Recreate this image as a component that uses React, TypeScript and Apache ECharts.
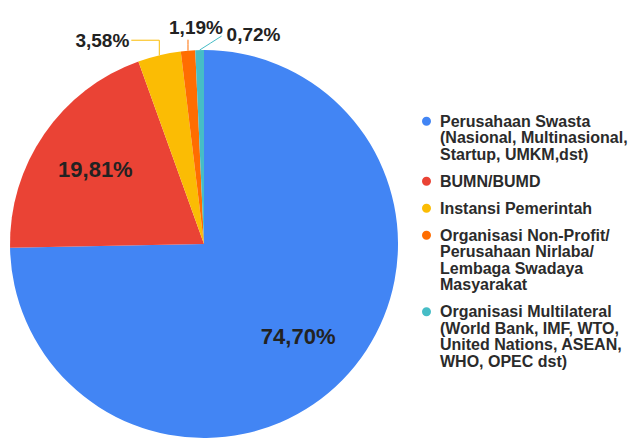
import React, { useEffect, useRef } from "react";
import * as echarts from "echarts";

const categories = [
  "Perusahaan Swasta\n(Nasional, Multinasional,\nStartup, UMKM,dst)",
  "BUMN/BUMD",
  "Instansi Pemerintah",
  "Organisasi Non-Profit/\nPerusahaan Nirlaba/\nLembaga Swadaya\nMasyarakat",
  "Organisasi Multilateral\n(World Bank, IMF, WTO,\nUnited Nations, ASEAN,\nWHO, OPEC dst)",
];
const values = [74.7, 19.81, 3.58, 1.19, 0.72];
const colors = ["#4285F4", "#EA4335", "#FBBC04", "#FF6D01", "#46BDC6"];

const PIE_CENTER = [204, 244];
const PIE_RADIUS = 194;
const FONT = "Liberation Sans, Arial, Helvetica, sans-serif";
const LEGEND_FONT_SIZE = 16;
const LEGEND_LINE = 16.5;

export default function App() {
  const ref = useRef<HTMLDivElement>(null);
  useEffect(() => {
    if (!ref.current) return;
    const chart = echarts.init(ref.current, null, { renderer: "svg" });
    const fmt = (v: number) => v.toFixed(2).replace(".", ",") + "%";

    const rich: any = {
      s: { width: 9, height: 9, lineHeight: LEGEND_LINE },
      p: { width: 18, height: 9, lineHeight: LEGEND_LINE },
      t: {
        fontFamily: FONT,
        fontWeight: "bold",
        fontSize: LEGEND_FONT_SIZE,
        lineHeight: LEGEND_LINE,
        color: "#2b2b2b",
      },
    };
    colors.forEach((c, i) => {
      rich["d" + i] = {
        width: 9,
        height: 9,
        borderRadius: 4.5,
        backgroundColor: c,
        lineHeight: LEGEND_LINE,
      };
    });

    chart.setOption({
      animation: false,
      backgroundColor: "#ffffff",
      legend: {
        orient: "vertical",
        left: 417,
        top: 113,
        padding: 0,
        icon: "none",
        itemWidth: 0,
        itemHeight: 9,
        itemGap: 10.5,
        selectedMode: false,
        data: categories,
        formatter: (name: string) => {
          const i = categories.indexOf(name);
          return name
            .split("\n")
            .map((l, j) => (j === 0 ? `{d${i}|}{s|}{t|${l}}` : `{p|}{t|${l}}`))
            .join("\n");
        },
        textStyle: {
          fontFamily: FONT,
          fontWeight: "bold",
          fontSize: LEGEND_FONT_SIZE,
          lineHeight: LEGEND_LINE,
          color: "#2b2b2b",
          rich,
        },
      },
      series: [
        {
          type: "pie",
          center: PIE_CENTER,
          radius: PIE_RADIUS,
          startAngle: 90,
          clockwise: true,
          avoidLabelOverlap: false,
          itemStyle: { borderWidth: 0 },
          data: categories.map((name, i) => ({
            name,
            value: values[i],
            itemStyle: { color: colors[i] },
            label:
              i < 2
                ? { position: "inside", fontSize: 22, fontWeight: "bold", color: "#222222" }
                : { position: "outside", fontSize: 19, fontWeight: "bold", color: "#222222" },
            labelLine:
              i < 2
                ? { show: false }
                : { show: true, length: 8, length2: 12, lineStyle: { color: colors[i], width: 1 } },
          })),
          label: {
            fontFamily: FONT,
            formatter: (p: any) => fmt(p.value),
          },
          labelLayout: (params: any) => {
            const i = params.dataIndex;
            const r = params.labelRect;
            if (i < 2) {
              const cx = r.x + r.width / 2;
              const cy = r.y + r.height / 2;
              const vx = cx - PIE_CENTER[0];
              const vy = cy - PIE_CENTER[1];
              const len = Math.sqrt(vx * vx + vy * vy) || 1;
              const d = PIE_RADIUS * 0.68;
              return {
                x: PIE_CENTER[0] + (vx / len) * d,
                y: PIE_CENTER[1] + (vy / len) * d,
                align: "center",
                verticalAlign: "middle",
                hideOverlap: false,
              };
            }
            const pts = params.labelLinePoints;
            if (!pts) return { hideOverlap: false };
            const p0 = pts[0];
            if (i === 2) {
              return {
                x: p0[0] - 30,
                y: p0[1] - 15,
                align: "right",
                verticalAlign: "middle",
                hideOverlap: false,
                labelLinePoints: [
                  [p0[0], p0[1]],
                  [p0[0], p0[1] - 15],
                  [p0[0] - 28, p0[1] - 15],
                ],
              };
            }
            if (i === 3) {
              return {
                x: p0[0] + 8,
                y: p0[1] - 14,
                align: "center",
                verticalAlign: "bottom",
                hideOverlap: false,
                labelLinePoints: [
                  [p0[0], p0[1]],
                  [p0[0], p0[1] - 6],
                  [p0[0], p0[1] - 11],
                ],
              };
            }
            return {
              x: p0[0] + 27,
              y: p0[1] - 16,
              align: "left",
              verticalAlign: "middle",
              hideOverlap: false,
              labelLinePoints: [
                [p0[0], p0[1]],
                [p0[0] + 11, p0[1] - 7],
                [p0[0] + 22, p0[1] - 14],
              ],
            };
          },
        },
      ],
    });
    return () => chart.dispose();
  }, []);
  return (
    <div
      ref={ref}
      style={{ position: "fixed", left: 0, top: 0, width: 640, height: 439 }}
    />
  );
}
